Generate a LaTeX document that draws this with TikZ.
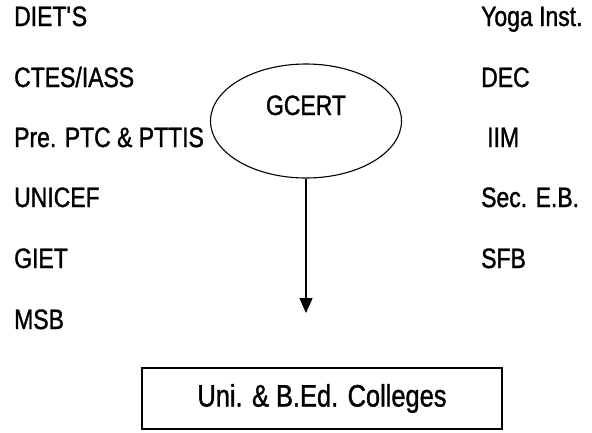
\documentclass[tikz,border=0pt]{standalone}
\usepackage{fontspec}
\setmainfont{Liberation Sans}[FakeStretch=0.82,FakeBold=1.2]
\usepackage{tikz}
\usetikzlibrary{arrows.meta}
\usetikzlibrary{shapes.geometric}
\tikzstyle{org}=[anchor=base west,inner sep=0pt]
\tikzstyle{hub}=[ellipse,draw,line width=1.1pt,minimum width=191pt,minimum height=114pt,inner sep=0pt,text height=20pt,text depth=32pt]
\tikzstyle{dest}=[draw,line width=1.4pt,minimum width=360pt,minimum height=61pt,font=\fontsize{31}{36}\selectfont]
\tikzstyle{down}=[line width=1.1pt,-{Triangle[length=15pt,width=13pt]}]

\begin{document}
\begin{tikzpicture}[x=1pt,y=-1pt,font=\fontsize{28}{34}\selectfont]
  \useasboundingbox (0,0) rectangle (592,432);
  % left column
  \node[org] (diets)  at (14,26)  {DIET\textquotesingle S};
  \node[org] (ctes)   at (14,87)  {CTES/IASS};
  \node[org] (pre)    at (14,147) {Pre. PTC \& PTTIS};
  \node[org] (unicef) at (14,207) {UNICEF};
  \node[org] (giet)   at (14,268) {GIET};
  \node[org] (msb)    at (14,329) {MSB};
  % right column
  \node[org] (yoga) at (481,26)  {Yoga Inst.};
  \node[org] (dec)  at (481,87)  {DEC};
  \node[org] (iim)  at (487,147) {IIM};
  \node[org] (sec)  at (481,207) {Sec. E.B.};
  \node[org] (sfb)  at (481,268) {SFB};
  % centre
  \node[hub]  (gcert) at (306,121) {GCERT};
  \node[dest] (bed)   at (322,398.5) {Uni. \& B.Ed. Colleges};
  \coordinate (tip) at (306,313);
  \draw[down] (gcert.south) -- (tip);
\end{tikzpicture}
\end{document}
